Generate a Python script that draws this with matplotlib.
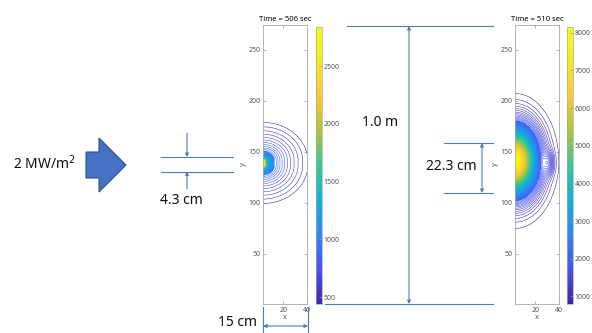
import numpy as np
import matplotlib
matplotlib.use("Agg")
from matplotlib import pyplot as plt
from matplotlib.colors import LinearSegmentedColormap, Normalize
from matplotlib.cm import ScalarMappable
from matplotlib.patches import Polygon

plt.rcParams['font.family'] = ['Noto Sans', 'DejaVu Sans']

# values
titles = ["Time = 506 sec", "Time = 510 sec"]
x_lim = (3, 40)
y_lim = (1, 274)
x_ticks = [20, 40]
y_ticks = [50, 100, 150, 200, 250]
cbar_lims = [(440, 2840), (800, 8150)]
cbar_ticks = [[500, 1000, 1500, 2000, 2500],
              [1000, 2000, 3000, 4000, 5000, 6000, 7000, 8000]]
hot_center = [139, 141]       # y of hot spot on the left wall
hot_half = [2, 0]             # half height of the hottest strip
outer_reach = [42.5, 15.5]    # size of the warm zone (x units)
y_stretch = [1.0, 1.8]        # warm zone taller than wide
n_levels = [54, 90]
fill_share = [0.23, 0.17]
# small nested loops in the second frame (x, y, size x, size y, strength)
spot2 = (31, 139, 4, 10, 0.09)

flux_label = "2 MW/m$^{2}$"
dim_labels = ["4.3 cm", "1.0 m", "22.3 cm", "15 cm"]

parula = LinearSegmentedColormap.from_list("parula", [
    (0.2422, 0.1504, 0.6603), (0.2810, 0.3228, 0.9579), (0.1786, 0.5289, 0.9682),
    (0.0689, 0.6948, 0.8394), (0.2161, 0.7843, 0.5923), (0.6720, 0.7793, 0.2227),
    (0.9970, 0.7659, 0.2199), (0.9598, 0.9218, 0.0948), (0.9769, 0.9839, 0.0805)])


def field(k, X, Y):
    dy = np.clip(np.abs(Y - hot_center[k]) - hot_half[k], 0, None) / y_stretch[k]
    d = np.hypot(X - x_lim[0], dy)
    R = outer_reach[k]
    if k == 0:
        core, w = 8.0, 0.25
        outer = w * np.log(R / np.maximum(d, core)) / np.log(R / core)
        inner = w * (core / np.clip(d, 1e-3, core)) ** 0.6
        f = np.where(d >= core, outer, inner)
    else:
        f = np.exp(-(d / R) ** 1.75)
        xs, ys, sx, sy, b = spot2
        f = f + b * np.exp(-((X - xs) / sx) ** 2 - ((Y - ys) / sy) ** 2)
    lo, hi = cbar_lims[k]
    return lo + (hi - lo) * np.clip(f, 0, 1)


fig = plt.figure(figsize=(5.92, 3.33), dpi=100)
W, H = 592.0, 333.0

ax_left = [263, 515]
cb_left = [316, 567]
grey = "#555555"

x = np.linspace(x_lim[0], x_lim[1], 420)
y = np.linspace(y_lim[0], y_lim[1], 1500)
X, Y = np.meshgrid(x, y)

for k in range(2):
    ax = fig.add_axes([ax_left[k] / W, (H - 304) / H, 44 / W, 279 / H])
    cax = fig.add_axes([cb_left[k] / W, (H - 304) / H, 6 / W, 277 / H])
    lo, hi = cbar_lims[k]
    norm = Normalize(lo, hi)
    T = field(k, X, Y)
    lev = np.linspace(lo, hi, n_levels[k] + 2)[1:-1]
    fill_from = lo + fill_share[k] * (hi - lo)
    ax.contourf(X, Y, T, levels=np.linspace(fill_from, hi, 60), cmap=parula, norm=norm)
    ax.contour(X, Y, T, levels=lev, cmap=parula, norm=norm, linewidths=0.4)

    ax.set_xlim(*x_lim)
    ax.set_ylim(*y_lim)
    ax.set_xticks(x_ticks)
    ax.set_yticks(y_ticks)
    ax.tick_params(direction='in', length=2, width=0.5, labelsize=5, colors='#999999',
                   labelcolor=grey, top=True, right=True, pad=2)
    for s in ax.spines.values():
        s.set_color('#aaaaaa')
        s.set_linewidth(0.6)
    ax.set_xlabel("x", fontsize=5.5, color=grey, labelpad=0)
    ax.set_ylabel("y", fontsize=5.5, color=grey, labelpad=1)
    ax.set_title(titles[k], fontsize=5.5, pad=3)

    cb = fig.colorbar(ScalarMappable(norm=norm, cmap=parula), cax=cax)
    cb.set_ticks(cbar_ticks[k])
    cb.ax.tick_params(direction='in', length=2, width=0.5, labelsize=5, colors='#999999',
                      labelcolor=grey, pad=1)
    cb.outline.set_edgecolor('#aaaaaa')
    cb.outline.set_linewidth(0.5)

# overlay for the annotations, in pixel coordinates
ov = fig.add_axes([0, 0, 1, 1], zorder=5)
ov.set_xlim(0, W)
ov.set_ylim(H, 0)
ov.axis('off')
ov.patch.set_alpha(0)

lc = "#4a7ebb"
txt = dict(fontsize=10, color="#111111", va='center')

ov.add_patch(Polygon([(86, 152), (99, 152), (99, 138), (126, 165), (99, 192),
                      (99, 178), (86, 178)], closed=True,
                     facecolor="#4472c4", edgecolor="#2f528f", lw=0.8))
ov.text(13, 164, flux_label, ha='left', **txt)


def hline(x0, x1, yy):
    ov.plot([x0, x1], [yy, yy], color=lc, lw=0.8)


def arrow(x0, y0, x1, y1, both=True):
    ov.annotate('', xy=(x1, y1), xytext=(x0, y0),
                arrowprops=dict(arrowstyle='<|-|>' if both else '-|>', color=lc, lw=0.8,
                                mutation_scale=5, shrinkA=0, shrinkB=0))


# 4.3 cm strip
hline(161, 233, 157)
hline(161, 233, 171.5)
arrow(187, 133, 187, 157, both=False)
arrow(187, 189, 187, 171.5, both=False)
ov.text(160, 200, dim_labels[0], ha='left', **txt)

# 1.0 m height
hline(347, 493, 26)
hline(325, 493, 304)
arrow(409, 26, 409, 304)
ov.text(362, 123, dim_labels[1], ha='left', **txt)

# 22.3 cm strip
hline(444, 493, 143)
hline(444, 493, 193)
arrow(482, 143, 482, 193)
ov.text(426, 167, dim_labels[2], ha='left', **txt)

# 15 cm width
ov.plot([263, 263], [307, 333], color=lc, lw=0.8)
ov.plot([308, 308], [307, 333], color=lc, lw=0.8)
arrow(263, 326, 308, 326)
ov.text(218, 322, dim_labels[3], ha='left', **txt)

fig.savefig("out.png", dpi=100)
